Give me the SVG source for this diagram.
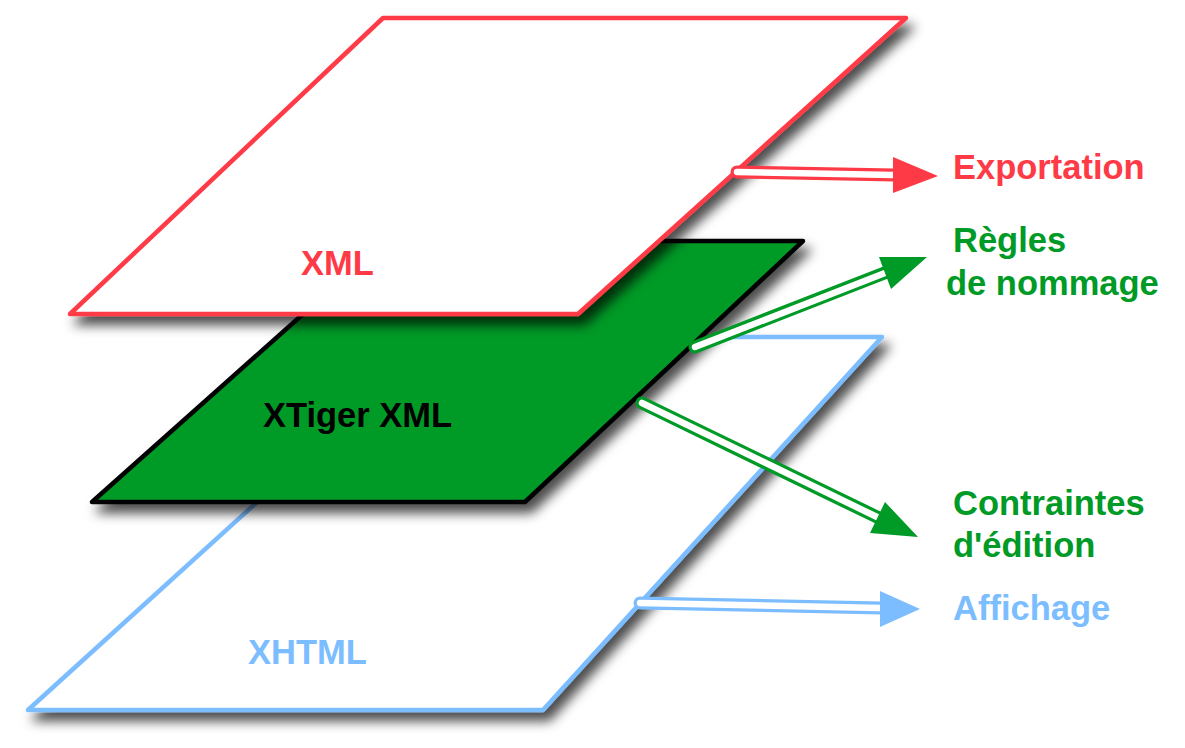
<svg xmlns="http://www.w3.org/2000/svg" width="1185" height="748" viewBox="0 0 1185 748">
  <defs>
    <filter id="shadow" x="-10%" y="-10%" width="130%" height="130%">
      <feDropShadow dx="6" dy="9" stdDeviation="6" flood-color="#000" flood-opacity="0.7"/>
    </filter>
  </defs>
  <style>
    .lbl { font-family: "Liberation Sans", Arial, Helvetica, sans-serif; font-weight: bold; font-size: 34.5px; }
    .red { fill: #FF3A47; }
    .green { fill: #009A26; }
    .blue { fill: #7CBDFF; }
    .black { fill: #000; }
    .plane { stroke-width: 4.5; stroke-linejoin: round; filter: url(#shadow); }
    .outer { stroke-width: 13; stroke-linecap: round; fill: none; }
    .inner { stroke: #fff; stroke-width: 6.5; stroke-linecap: round; fill: none; }
  </style>
  <rect width="1185" height="748" fill="#fff"/>

  <g id="xhtml">
    <polygon class="plane" points="439,337 882,337 543,710 28,710" fill="#fff" stroke="#7CBDFF"/>
    <text class="lbl blue" x="248" y="664">XHTML</text>
  </g>

  <g id="xtiger">
    <polygon class="plane" points="385,241 803,241 525,502 92,502" fill="#009A26" stroke="#000"/>
    <text class="lbl black" x="263" y="427">XTiger XML</text>
  </g>

  <g id="xml">
    <polygon class="plane" points="383,18 906,18 578,314 70,314" fill="#fff" stroke="#FF3A47"/>
    <text class="lbl red" x="301" y="275">XML</text>
  </g>

  <g id="connectors">
    <g id="arrow-export">
      <line class="outer" stroke="#FF3A47" x1="737" y1="172" x2="895" y2="175"/>
      <line class="inner" x1="737" y1="172" x2="893" y2="175"/>
      <polygon fill="#FF3A47" points="893,157 938,176 893,193"/>
    </g>
    <g id="arrow-regles">
      <line class="outer" stroke="#009A26" x1="695" y1="347" x2="887" y2="272"/>
      <line class="inner" x1="695" y1="347" x2="885" y2="273"/>
      <polygon fill="#009A26" points="879,257 927,257 891,289"/>
    </g>
    <g id="arrow-contraintes">
      <line class="outer" stroke="#009A26" x1="642" y1="403" x2="879" y2="518"/>
      <line class="inner" x1="642" y1="403" x2="877" y2="517"/>
      <polygon fill="#009A26" points="885,502 918,537 870,533"/>
    </g>
    <g id="arrow-affichage">
      <line class="outer" stroke="#7CBDFF" x1="640" y1="603" x2="882" y2="608"/>
      <line class="inner" x1="640" y1="603" x2="880" y2="608"/>
      <polygon fill="#7CBDFF" points="880,591 920,609 880,627"/>
    </g>
  </g>

  <g id="label-exportation">
    <text class="lbl red" x="953" y="179">Exportation</text>
  </g>
  <g id="label-regles">
    <text class="lbl green" x="953" y="252">Règles</text>
    <text class="lbl green" x="946" y="295">de nommage</text>
  </g>
  <g id="label-contraintes">
    <text class="lbl green" x="953" y="515">Contraintes</text>
    <text class="lbl green" x="953" y="557">d'édition</text>
  </g>
  <g id="label-affichage">
    <text class="lbl blue" x="953" y="620">Affichage</text>
  </g>
</svg>
